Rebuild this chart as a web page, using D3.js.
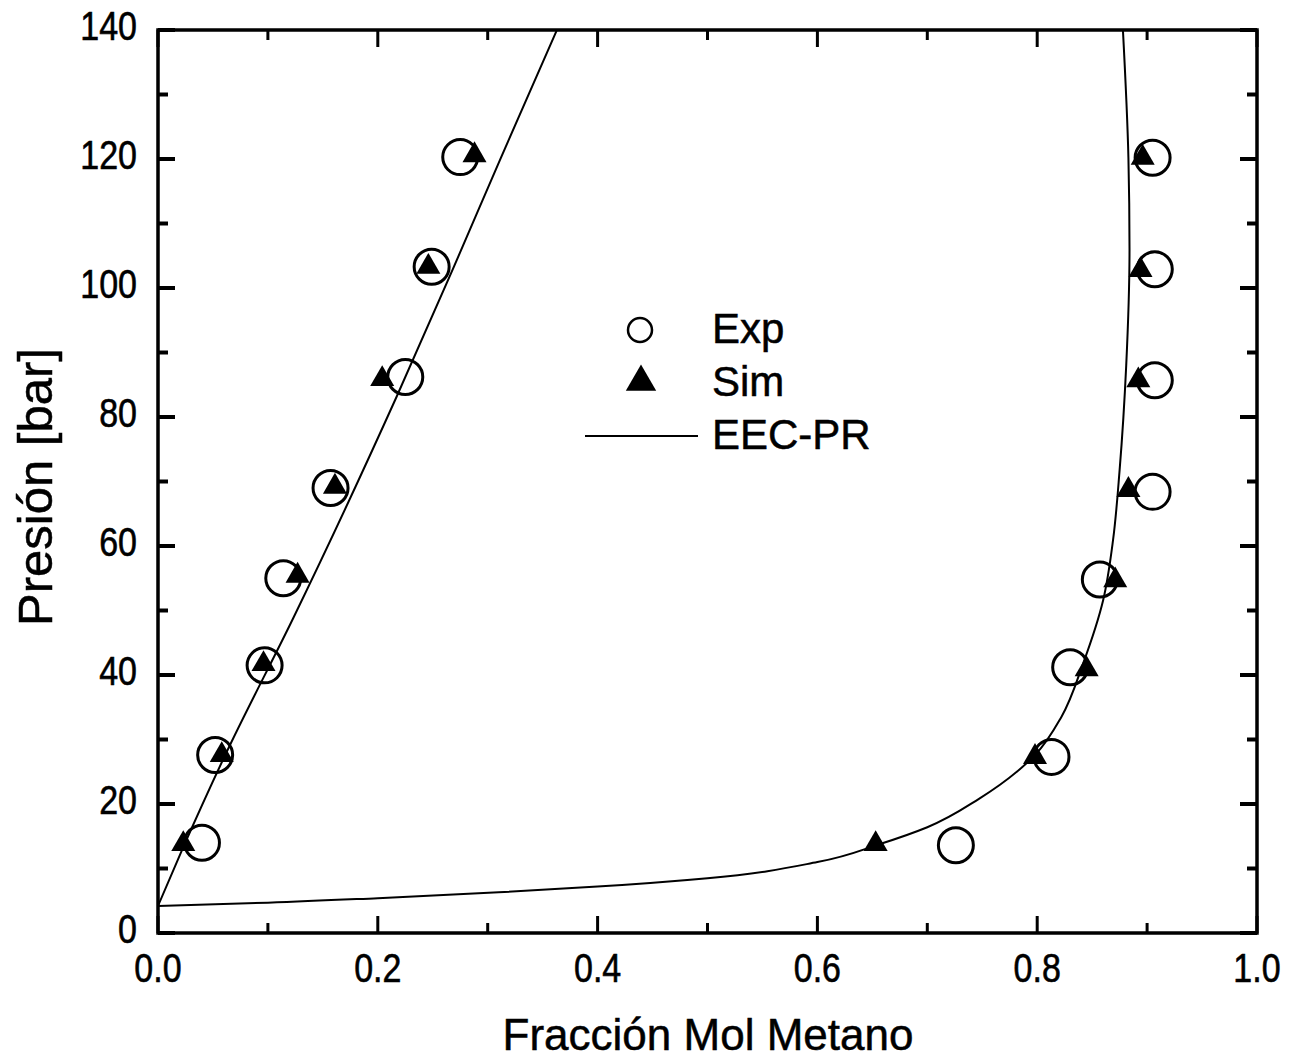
<!DOCTYPE html>
<html>
<head>
<meta charset="utf-8">
<script src="https://cdn.jsdelivr.net/npm/d3@7"></script>
<style>
  body { margin: 0; background: #fff; }
  svg { display: block; }
  .tick-label { font-family: "Liberation Sans", Arial, sans-serif; font-size: 40px; fill: #000; stroke: #000; stroke-width: 0.6px; }
  .title { font-family: "Liberation Sans", Arial, sans-serif; fill: #000; stroke: #000; stroke-width: 0.5px; }
  .legend-text { font-family: "Liberation Sans", Arial, sans-serif; font-size: 42px; fill: #000; stroke: #000; stroke-width: 0.5px; }
</style>
</head>
<body>
<svg id="chart" width="1295" height="1063"></svg>
<script>
// Experimental points (circles)
const expX = [0.040, 0.052, 0.097, 0.114, 0.157, 0.225, 0.249, 0.275,
              0.726, 0.813, 0.830, 0.857, 0.905, 0.907, 0.907, 0.905];
const expP = [14.0, 27.6, 41.5, 55.0, 69.0, 86.2, 103.3, 120.3,
              13.6, 27.3, 41.2, 54.8, 68.4, 85.7, 102.9, 120.2];

// Simulated points (triangles)
const simX = [0.023, 0.058, 0.096, 0.127, 0.161, 0.204, 0.246, 0.288,
              0.653, 0.798, 0.845, 0.871, 0.883, 0.892, 0.894, 0.896];
const simP = [14.1, 27.9, 42.0, 55.7, 69.5, 86.2, 103.6, 120.9,
              14.1, 27.6, 41.2, 55.0, 69.0, 86.0, 103.1, 120.5];

// EEC-PR curve, liquid branch
const liqX = [0.0, 0.023, 0.062, 0.123, 0.217, 0.268, 0.311, 0.363];
const liqP = [4.2, 13.3, 27.9, 48.8, 83.1, 102.8, 119.8, 140];

// EEC-PR curve, vapour branch
const vapX = [0.0, 0.1, 0.2, 0.31, 0.4, 0.5, 0.6, 0.657, 0.7, 0.747, 0.798, 0.822,
              0.842, 0.860, 0.869, 0.875, 0.881, 0.884, 0.883, 0.878];
const vapP = [4.2, 4.7, 5.4, 6.3, 7.2, 8.5, 11.0, 13.8, 16.4, 20.8, 27.6, 33.5,
              41.9, 51.6, 60.9, 71.8, 88.0, 105.9, 120.2, 140];

const xTicks = [0.0, 0.2, 0.4, 0.6, 0.8, 1.0];
const yTicks = [0, 20, 40, 60, 80, 100, 120, 140];
const legendLabels = ["Exp", "Sim", "EEC-PR"];

const svg = d3.select("#chart");
const margin = { top: 30, right: 38, bottom: 130, left: 158 };
const width = +svg.attr("width");
const height = +svg.attr("height");
const x = d3.scaleLinear().domain([0, 1]).range([margin.left, width - margin.right]);
const y = d3.scaleLinear().domain([0, 140]).range([height - margin.bottom, margin.top]);

svg.append("rect").attr("width", width).attr("height", height).attr("fill", "#fff");

svg.append("clipPath").attr("id", "plot-clip")
  .append("rect")
  .attr("x", x(0)).attr("y", y(140))
  .attr("width", x(1) - x(0)).attr("height", y(0) - y(140));

// Curves (pressure rises monotonically along each branch)
const line = d3.line()
  .x(d => x(d[0]))
  .y(d => y(d[1]))
  .curve(d3.curveMonotoneY);

const curves = [d3.zip(liqX, liqP), d3.zip(vapX, vapP)];
svg.append("g").attr("clip-path", "url(#plot-clip)")
  .selectAll("path")
  .data(curves)
  .join("path")
  .attr("d", line)
  .attr("fill", "none")
  .attr("stroke", "#000")
  .attr("stroke-width", 2);

// Exp circles
svg.append("g")
  .selectAll("circle")
  .data(d3.zip(expX, expP))
  .join("circle")
  .attr("cx", d => x(d[0]))
  .attr("cy", d => y(d[1]))
  .attr("r", 17.5)
  .attr("fill", "none")
  .attr("stroke", "#000")
  .attr("stroke-width", 3);

// Sim triangles
const tri = d3.symbol().type(d3.symbolTriangle).size(250);
svg.append("g")
  .selectAll("path")
  .data(d3.zip(simX, simP))
  .join("path")
  .attr("d", tri)
  .attr("transform", d => `translate(${x(d[0])},${y(d[1]) + 2})`)
  .attr("fill", "#000");

// Axes (ticks inside on all four sides)
const axisW = 3.5;
const major = 17, minor = 10;
const xMinor = d3.range(0.1, 1, 0.2);
const yMinor = d3.range(10, 140, 20);

const axes = svg.append("g").attr("stroke", "#000").attr("fill", "none");

axes.append("rect")
  .attr("x", x(0)).attr("y", y(140))
  .attr("width", x(1) - x(0)).attr("height", y(0) - y(140))
  .attr("stroke-width", axisW);

const tickW = 3;
// bottom + top ticks
[[xTicks, major], [xMinor, minor]].forEach(([vals, len]) => {
  axes.append("g").selectAll("line").data(vals).join("line")
    .attr("x1", d => x(d)).attr("x2", d => x(d))
    .attr("y1", y(0)).attr("y2", y(0) - len)
    .attr("stroke-width", tickW);
  axes.append("g").selectAll("line").data(vals).join("line")
    .attr("x1", d => x(d)).attr("x2", d => x(d))
    .attr("y1", y(140)).attr("y2", y(140) + len)
    .attr("stroke-width", tickW);
});
// left + right ticks
[[yTicks, major], [yMinor, minor]].forEach(([vals, len]) => {
  axes.append("g").selectAll("line").data(vals).join("line")
    .attr("y1", d => y(d)).attr("y2", d => y(d))
    .attr("x1", x(0)).attr("x2", x(0) + len)
    .attr("stroke-width", tickW + 1);
  axes.append("g").selectAll("line").data(vals).join("line")
    .attr("y1", d => y(d)).attr("y2", d => y(d))
    .attr("x1", x(1)).attr("x2", x(1) - len)
    .attr("stroke-width", tickW + 1);
});

// Tick labels (slightly condensed, like the original print)
const squeeze = 0.85;
svg.append("g").selectAll("text").data(xTicks).join("text")
  .attr("class", "tick-label")
  .attr("transform", d => `translate(${x(d)},${y(0) + 49}) scale(${squeeze},1)`)
  .attr("text-anchor", "middle")
  .text(d3.format(".1f"));

svg.append("g").selectAll("text").data(yTicks).join("text")
  .attr("class", "tick-label")
  .attr("transform", d => `translate(${x(0) - 21},${y(d) + 10}) scale(${squeeze},1)`)
  .attr("text-anchor", "end")
  .text(d => d);

// Axis titles
svg.append("text")
  .attr("class", "title")
  .attr("font-size", 44)
  .attr("x", 708)
  .attr("y", 1050)
  .attr("text-anchor", "middle")
  .text("Fracción Mol Metano");

svg.append("text")
  .attr("class", "title")
  .attr("font-size", 49)
  .attr("transform", "translate(52,487) rotate(-90)")
  .attr("text-anchor", "middle")
  .text("Presión [bar]");

// Legend
const lg = svg.append("g").attr("transform", "translate(640,330)");
lg.append("circle").attr("r", 12).attr("fill", "none").attr("stroke", "#000").attr("stroke-width", 2.5);
lg.append("path")
  .attr("d", d3.symbol().type(d3.symbolTriangle).size(400))
  .attr("transform", "translate(1,52)")
  .attr("fill", "#000");
lg.append("line")
  .attr("x1", -55).attr("x2", 58)
  .attr("y1", 106).attr("y2", 106)
  .attr("stroke", "#000").attr("stroke-width", 2);
lg.selectAll("text").data(legendLabels).join("text")
  .attr("class", "legend-text")
  .attr("x", 72)
  .attr("y", (d, i) => 13 + i * 53)
  .text(d => d);
</script>
</body>
</html>
